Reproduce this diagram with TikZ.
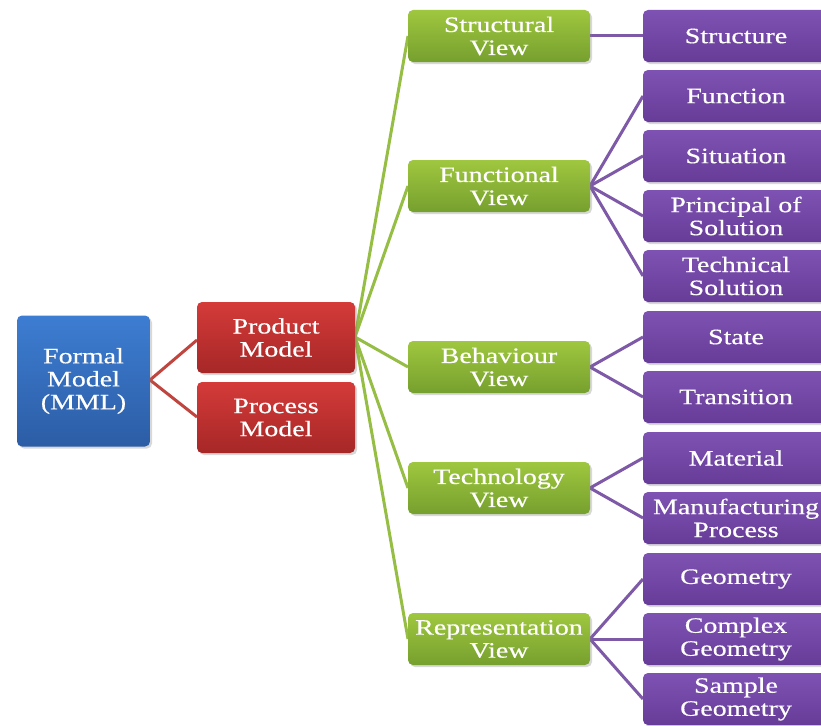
\documentclass[tikz,border=0pt]{standalone}
\usepackage{fontspec}
\setmainfont[FakeStretch=1.27,FakeBold=0.4]{Liberation Serif}
\usetikzlibrary{shadows}
\definecolor{btop}{HTML}{3D7DD2}
\definecolor{bbot}{HTML}{2C5DA5}
\definecolor{rtop}{HTML}{D43B39}
\definecolor{rbot}{HTML}{A62727}
\definecolor{gtop}{HTML}{9FC73F}
\definecolor{gbot}{HTML}{76A02E}
\definecolor{ptop}{HTML}{7E52B2}
\definecolor{pbot}{HTML}{673C98}
\definecolor{rline}{HTML}{C0453F}
\definecolor{gline}{HTML}{96BE45}
\definecolor{pline}{HTML}{7D59A8}
\begin{document}
\begin{tikzpicture}[x=1pt,y=-1pt,
  base/.style={rounded corners=5pt, align=center, text=white,
    font=\fontsize{22}{23}\selectfont, inner sep=0pt,
    drop shadow={opacity=0.3, shadow xshift=2pt, shadow yshift=-2pt}},
  bluebox/.style={base, top color=btop, bottom color=bbot,
    minimum width=133pt, minimum height=131pt},
  redbox/.style={base, top color=rtop, bottom color=rbot,
    minimum width=158pt, minimum height=71pt},
  greenbox/.style={base, top color=gtop, bottom color=gbot,
    minimum width=182pt, minimum height=52pt},
  purplebox/.style={base, top color=ptop, bottom color=pbot,
    minimum width=186pt, minimum height=52pt},
  redline/.style={draw=rline, line width=3pt},
  greenline/.style={draw=gline, line width=3pt},
  purpleline/.style={draw=pline, line width=3pt}]
\useasboundingbox (0,0) rectangle (821,725);
\clip (0,0) rectangle (821,725);
\fill[white] (0,0) rectangle (821,725);

% connector end points
\coordinate (fmR) at (150,380);
\coordinate (pmL) at (197,340);
\coordinate (prL) at (197,417);
\coordinate (pmR) at (355,337);
\foreach \y/\n in {36/sv,186/fv,367/bv,488/tv,639/rv} {\coordinate (\n L) at (408,\y);}
\foreach \y/\n in {36/svR,186/fvR,367/bvR,488/tvR,639/rvR} {\coordinate (\n) at (590,\y);}
\foreach \y/\n in {36/a,96/b,156/c,216/d,276/e,337/f,397/g,458/h,518/i,579/j,639/k,699/l} {\coordinate (\n L) at (643,\y);}

\draw[redline] (pmL) -- (fmR) -- (prL);
\foreach \n in {sv,fv,bv,tv,rv} {\draw[greenline] (pmR) -- (\n L);}
\draw[purpleline] (svR) -- (aL);
\foreach \n in {b,c,d,e} {\draw[purpleline] (fvR) -- (\n L);}
\foreach \n in {f,g} {\draw[purpleline] (bvR) -- (\n L);}
\foreach \n in {h,i} {\draw[purpleline] (tvR) -- (\n L);}
\foreach \n in {j,k,l} {\draw[purpleline] (rvR) -- (\n L);}

% boxes
\node[bluebox] (fm) at (83.5,381) {Formal\\Model\\(MML)};
\node[redbox] (pm) at (276,337.5) {Product\\Model};
\node[redbox] (pr) at (276,417.5) {Process\\Model};

\node[greenbox] (sv) at (499,36) {Structural\\View};
\node[greenbox] (fv) at (499,186) {Functional\\View};
\node[greenbox] (bv) at (499,367) {Behaviour\\View};
\node[greenbox] (tv) at (499,488) {Technology\\View};
\node[greenbox] (rv) at (499,639) {Representation\\View};

\node[purplebox] (a) at (736,36) {Structure};
\node[purplebox] (b) at (736,96) {Function};
\node[purplebox] (c) at (736,156) {Situation};
\node[purplebox] (d) at (736,216) {Principal of\\Solution};
\node[purplebox] (e) at (736,276) {Technical\\Solution};
\node[purplebox] (f) at (736,337) {State};
\node[purplebox] (g) at (736,397) {Transition};
\node[purplebox] (h) at (736,458) {Material};
\node[purplebox] (i) at (736,518) {Manufacturing\\Process};
\node[purplebox] (j) at (736,579) {Geometry};
\node[purplebox] (k) at (736,639) {Complex\\Geometry};
\node[purplebox] (l) at (736,699) {Sample\\Geometry};
\end{tikzpicture}
\end{document}
